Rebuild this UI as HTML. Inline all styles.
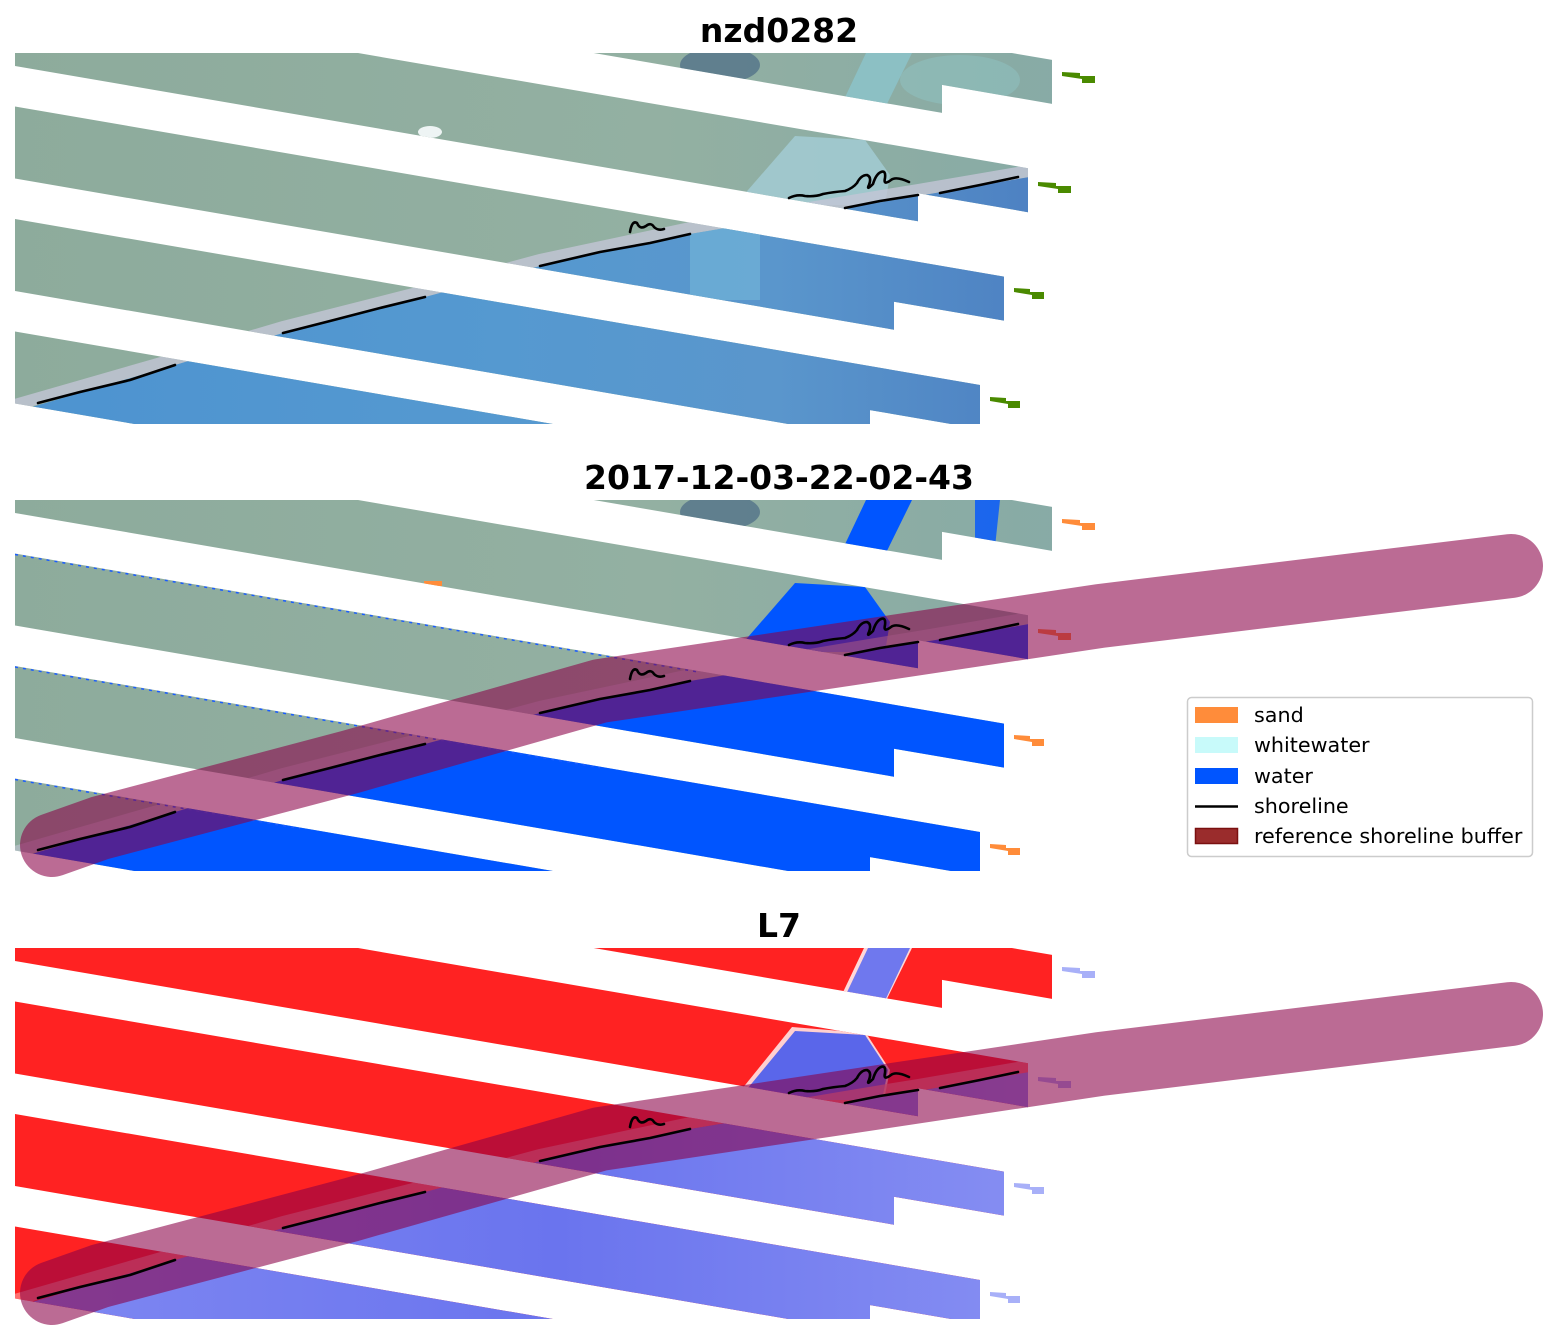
<!DOCTYPE html>
<html><head><meta charset="utf-8"><style>
html,body{margin:0;padding:0;background:#fff}
svg{display:block}
</style></head><body>
<svg width="1558" height="1337" viewBox="0 0 1558 1337" xmlns="http://www.w3.org/2000/svg" font-family="'DejaVu Sans','Liberation Sans',sans-serif">
<defs>
  <clipPath id="frame" clipPathUnits="userSpaceOnUse"><rect x="15" y="53" width="1080" height="371"/></clipPath>
  <clipPath id="stripes" clipPathUnits="userSpaceOnUse">
    <polygon points="15,-118.5 1052,59.9 1052,103.9 942,84.9 942,112.9 15,-46.5"/>
    <polygon points="15,-6 1028,168.2 1028,212.2 918,193.3 918,221.3 15,66"/>
    <polygon points="15,106.5 1004,276.6 1004,320.6 894,301.7 894,329.7 15,178.5"/>
    <polygon points="15,219 980,385 980,429 870,410.1 870,438.1 15,291"/>
    <polygon points="15,331.5 700,449.3 700,521 15,403.5"/>
  </clipPath>
  <linearGradient id="land1" x1="0" y1="0" x2="1" y2="0">
    <stop offset="0" stop-color="#8dab9c"/><stop offset="0.6" stop-color="#93b0a2"/><stop offset="1" stop-color="#86aaa6"/>
  </linearGradient>
  <linearGradient id="water1" x1="0" y1="0" x2="1" y2="0">
    <stop offset="0" stop-color="#4d93d0"/><stop offset="0.45" stop-color="#5599d0"/><stop offset="0.7" stop-color="#5a96cc"/><stop offset="1" stop-color="#4a7cc0"/>
  </linearGradient>
  <linearGradient id="water3" x1="0" y1="0" x2="1" y2="0">
    <stop offset="0" stop-color="#7f88f2"/><stop offset="0.5" stop-color="#6a74ee"/><stop offset="1" stop-color="#8a92f3"/>
  </linearGradient>
</defs>

<!-- Titles -->
<text x="779" y="42" text-anchor="middle" font-size="33" font-weight="bold" fill="#000">nzd0282</text>
<text x="779" y="489" text-anchor="middle" font-size="33" font-weight="bold" fill="#000">2017-12-03-22-02-43</text>
<text x="779" y="937" text-anchor="middle" font-size="33" font-weight="bold" fill="#000">L7</text>

<!-- PANEL 1 -->
<g transform="translate(0,0)">
  <g clip-path="url(#frame)">
    <g clip-path="url(#stripes)">
      <rect x="0" y="0" width="1100" height="430" fill="url(#land1)"/>
      <ellipse cx="720" cy="65" rx="40" ry="18" fill="#3f5f80" opacity="0.6"/>
      <ellipse cx="960" cy="80" rx="60" ry="25" fill="#8fc4c4" opacity="0.5"/>
      <ellipse cx="430" cy="132" rx="12" ry="6" fill="#eef4f4"/>
      <polygon points="866,53 912,53 883,112 838,112" fill="#8cc4cc" opacity="0.8"/>
      <polygon points="795,136 865,140 890,175 885,205 735,205" fill="#a4cdd6" opacity="0.8"/>
      <polyline points="15,405 175,359 283,327 425,291 540,260 690,228 845,202 918,190 1100,159" fill="none" stroke="#c3c6d6" stroke-width="12" opacity="0.8"/>
      <polygon points="15,412 175,365 283,333 425,297 540,266 690,234 845,208 918,196 1100,165 1100,430 15,430" fill="url(#water1)"/>
      <polygon points="690,234 760,222 760,300 690,300" fill="#79bddc" opacity="0.5"/>
    </g>
    <g fill="#4a8a00">
      <polygon points="1062,72 1080,73 1080,76 1095,76 1095,83 1082,83 1082,79 1062,76"/>
      <polygon points="1038,182 1056,183 1056,186 1071,186 1071,193 1058,193 1058,189 1038,186"/>
      <polygon points="1014,288 1030,289 1030,292 1044,292 1044,299 1032,299 1032,295 1014,292"/>
      <polygon points="990,397 1006,398 1006,401 1020,401 1020,408 1008,408 1008,404 990,401"/>
    </g>
  </g>
  <g fill="none" stroke="#000" stroke-width="2.6" stroke-linejoin="round" stroke-linecap="round">
    <polyline points="38,403 80,392 130,380 175,365"/>
    <polyline points="283,333 330,321 380,308 425,297"/>
    <polyline points="540,266 600,252 650,243 690,234"/>
    <path d="M630,232 q2,-12 7,-9 q3,7 9,3 q5,-4 8,1 q4,4 10,2"/>
    <path d="M789,198 q8,-4 16,-2 q10,1 18,-2 q10,-2 22,-3 q8,-3 12,-8 q4,-8 10,-8 q5,2 2,10 q-3,6 4,-1 q3,-10 8,-12 q5,-2 4,6 q-2,8 6,2 q5,-4 18,2"/>
    <polyline points="845,208 880,201 918,195"/>
    <polyline points="940,193 980,185 1018,177"/>
  </g>
</g>

<!-- PANEL 2 -->
<g transform="translate(0,447)">
  <g clip-path="url(#frame)">
    <g clip-path="url(#stripes)">
      <rect x="0" y="0" width="1100" height="430" fill="url(#land1)"/>
      <ellipse cx="720" cy="65" rx="40" ry="18" fill="#3f5f80" opacity="0.6"/>
      <polygon points="866,53 912,53 883,112 838,112" fill="#0055ff"/>
      <polygon points="975,53 1000,53 995,100 975,100" fill="#0055ff" opacity="0.8"/>
      <polygon points="795,136 865,140 890,175 885,205 735,205" fill="#0055ff"/>
      <polyline points="15,405 175,359 283,327 425,291 540,260 690,228 845,202 918,190 1100,159" fill="none" stroke="#c3c6d6" stroke-width="12" opacity="0.6"/>
      <polygon points="15,412 175,365 283,333 425,297 540,266 690,234 845,208 918,196 1100,165 1100,430 15,430" fill="#0055ff"/>
      <rect x="424" y="134" width="18" height="5" fill="#ff8c3a"/>
    </g>
    <g fill="none" stroke="#1a5cff" stroke-width="1.5" stroke-dasharray="3 5">
      <line x1="15" y1="107.5" x2="700" y2="225.3"/>
      <line x1="15" y1="220" x2="600" y2="320.6"/>
      <line x1="15" y1="332.5" x2="300" y2="381.5"/>
    </g>
    <g fill="#ff8c3a">
      <polygon points="1062,72 1080,73 1080,76 1095,76 1095,83 1082,83 1082,79 1062,76"/>
      <polygon points="1038,182 1056,183 1056,186 1071,186 1071,193 1058,193 1058,189 1038,186"/>
      <polygon points="1014,288 1030,289 1030,292 1044,292 1044,299 1032,299 1032,295 1014,292"/>
      <polygon points="990,397 1006,398 1006,401 1020,401 1020,408 1008,408 1008,404 990,401"/>
    </g>
  </g>
  <polyline points="52,398 100,381 350,315 600,244 1100,169 1511,119" fill="none" stroke="rgb(138,0,71)" stroke-opacity="0.58" stroke-width="64" stroke-linejoin="round" stroke-linecap="round"/>
  <g fill="none" stroke="#000" stroke-width="2.6" stroke-linejoin="round" stroke-linecap="round">
    <polyline points="38,403 80,392 130,380 175,365"/>
    <polyline points="283,333 330,321 380,308 425,297"/>
    <polyline points="540,266 600,252 650,243 690,234"/>
    <path d="M630,232 q2,-12 7,-9 q3,7 9,3 q5,-4 8,1 q4,4 10,2"/>
    <path d="M789,198 q8,-4 16,-2 q10,1 18,-2 q10,-2 22,-3 q8,-3 12,-8 q4,-8 10,-8 q5,2 2,10 q-3,6 4,-1 q3,-10 8,-12 q5,-2 4,6 q-2,8 6,2 q5,-4 18,2"/>
    <polyline points="845,208 880,201 918,195"/>
    <polyline points="940,193 980,185 1018,177"/>
  </g>
</g>

<!-- PANEL 3 -->
<g transform="translate(0,895)">
  <g clip-path="url(#frame)">
    <g clip-path="url(#stripes)">
      <rect x="0" y="0" width="1100" height="430" fill="#ff2222"/>
      <ellipse cx="560" cy="60" rx="40" ry="10" fill="#ff9a9a" opacity="0.7"/>
      <polygon points="864,53 912,53 883,112 836,112" fill="#ffd8d8"/>
      <polygon points="868,53 910,53 882,112 840,112" fill="#6f78ee"/>
      <polygon points="792,132 866,138 890,175 884,205 733,205" fill="#ffd0d0"/>
      <polygon points="795,136 865,140 888,175 882,205 738,205" fill="#5a66ea"/>
      <polyline points="15,405 175,359 283,327 425,291 540,260 690,228 845,202 918,190 1100,159" fill="none" stroke="#ff9090" stroke-width="12" opacity="0.7"/>
      <polygon points="15,412 175,365 283,333 425,297 540,266 690,234 845,208 918,196 1100,165 1100,430 15,430" fill="url(#water3)"/>
    </g>
    <g fill="#a8b0f8">
      <polygon points="1062,72 1080,73 1080,76 1095,76 1095,83 1082,83 1082,79 1062,76"/>
      <polygon points="1038,182 1056,183 1056,186 1071,186 1071,193 1058,193 1058,189 1038,186"/>
      <polygon points="1014,288 1030,289 1030,292 1044,292 1044,299 1032,299 1032,295 1014,292"/>
      <polygon points="990,397 1006,398 1006,401 1020,401 1020,408 1008,408 1008,404 990,401"/>
    </g>
  </g>
  <polyline points="52,398 100,381 350,315 600,244 1100,169 1511,119" fill="none" stroke="rgb(138,0,71)" stroke-opacity="0.58" stroke-width="64" stroke-linejoin="round" stroke-linecap="round"/>
  <g fill="none" stroke="#000" stroke-width="2.6" stroke-linejoin="round" stroke-linecap="round">
    <polyline points="38,403 80,392 130,380 175,365"/>
    <polyline points="283,333 330,321 380,308 425,297"/>
    <polyline points="540,266 600,252 650,243 690,234"/>
    <path d="M630,232 q2,-12 7,-9 q3,7 9,3 q5,-4 8,1 q4,4 10,2"/>
    <path d="M789,198 q8,-4 16,-2 q10,1 18,-2 q10,-2 22,-3 q8,-3 12,-8 q4,-8 10,-8 q5,2 2,10 q-3,6 4,-1 q3,-10 8,-12 q5,-2 4,6 q-2,8 6,2 q5,-4 18,2"/>
    <polyline points="845,208 880,201 918,195"/>
    <polyline points="940,193 980,185 1018,177"/>
  </g>
</g>

<!-- Legend -->
<g>
  <rect x="1187.5" y="697.5" width="345" height="159" rx="4" ry="4" fill="#fff" fill-opacity="0.8" stroke="#cccccc" stroke-width="1.5"/>
  <rect x="1195" y="707" width="43" height="16" fill="#ff8c3a"/>
  <rect x="1195" y="737" width="43" height="16" fill="#c8fafa"/>
  <rect x="1195" y="768" width="43" height="16" fill="#0055ff"/>
  <line x1="1195" y1="806.5" x2="1238" y2="806.5" stroke="#000" stroke-width="2.6"/>
  <rect x="1195.5" y="828.5" width="42" height="15" fill="#9a2c2c" stroke="#7a1010" stroke-width="1.5"/>
  <g font-size="20.7" fill="#000">
    <text x="1254" y="722">sand</text>
    <text x="1254" y="752">whitewater</text>
    <text x="1254" y="783">water</text>
    <text x="1254" y="813">shoreline</text>
    <text x="1254" y="843">reference shoreline buffer</text>
  </g>
</g>
</svg>
</body></html>
